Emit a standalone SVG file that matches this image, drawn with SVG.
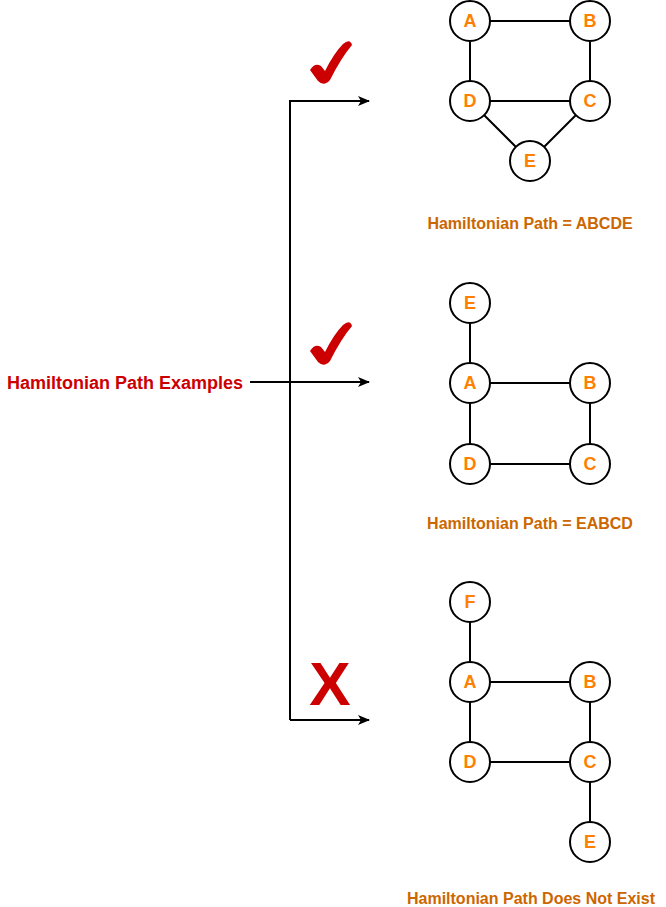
<svg xmlns="http://www.w3.org/2000/svg" width="666" height="907" viewBox="0 0 666 907">
<defs>
<marker id="arr" markerWidth="12" markerHeight="12" refX="11" refY="6" orient="auto" markerUnits="userSpaceOnUse">
<path d="M0,1 L12,6 L0,11 L3,6 Z" fill="#000"/>
</marker>
<style>
.n circle{fill:#fff;stroke:#000;stroke-width:2}
.n text{font-family:"Liberation Sans",Arial,sans-serif;font-weight:bold;font-size:18px;fill:#FF8000;text-anchor:middle;dominant-baseline:central}
.e{stroke:#000;stroke-width:2;fill:none}
.c{stroke:#000;stroke-width:2;fill:none}
.lbl{font-family:"Liberation Sans",Arial,sans-serif;font-weight:bold;font-size:16px;fill:#CC6600;text-anchor:middle}
.title{font-family:"Liberation Sans",Arial,sans-serif;font-weight:bold;font-size:18px;fill:#CC0000;text-anchor:middle}
.mark{fill:#CC0000}
.xm{font-family:"Liberation Sans",Arial,sans-serif;font-weight:bold;font-size:62px;fill:#CC0000;text-anchor:middle}
</style>
</defs>
<rect width="666" height="907" fill="#fff"/>
<g id="connectors">
<path class="c" d="M250,382 H369" marker-end="url(#arr)"/>
<path class="c" d="M290,720 V101 H369" marker-end="url(#arr)"/>
<path class="c" d="M290,720 H369" marker-end="url(#arr)"/>
<!-- graph 1 edges -->
<path class="e" d="M490,21 H570 M470,41 V81 M590,41 V81 M490,101 H570 M484,115 L516,147 M576,115 L544,147"/>
<!-- graph 2 edges -->
<path class="e" d="M470,323 V363 M490,383 H570 M470,403 V444 M590,403 V444 M490,464 H570"/>
<!-- graph 3 edges -->
<path class="e" d="M470,622 V662 M490,682 H570 M470,702 V742 M590,702 V742 M490,762 H570 M590,782 V822"/>
</g>
<g id="title"><text class="title" x="125" y="389">Hamiltonian Path Examples</text></g>
<g id="check1"><path class="mark" d="M310,70 Q315,62 321,66 L325,71 Q334,53 343,44 Q350,38 352,45 Q341,58 330,80 Q324,87 318,81 Z"/></g>
<g id="check2"><path class="mark" d="M310,351 Q315,343 321,347 L325,352 Q334,334 343,325 Q350,319 352,326 Q341,339 330,361 Q324,368 318,362 Z"/></g>
<g id="cross"><text class="xm" x="330" y="705">X</text></g>
<g id="g1A" class="n"><circle cx="470" cy="21" r="20"/><text x="470" y="21">A</text></g>
<g id="g1B" class="n"><circle cx="590" cy="21" r="20"/><text x="590" y="21">B</text></g>
<g id="g1D" class="n"><circle cx="470" cy="101" r="20"/><text x="470" y="101">D</text></g>
<g id="g1C" class="n"><circle cx="590" cy="101" r="20"/><text x="590" y="101">C</text></g>
<g id="g1E" class="n"><circle cx="530" cy="161" r="20"/><text x="530" y="161">E</text></g>
<g id="label1"><text class="lbl" x="530" y="229">Hamiltonian Path = ABCDE</text></g>
<g id="g2E" class="n"><circle cx="470" cy="303" r="20"/><text x="470" y="303">E</text></g>
<g id="g2A" class="n"><circle cx="470" cy="383" r="20"/><text x="470" y="383">A</text></g>
<g id="g2B" class="n"><circle cx="590" cy="383" r="20"/><text x="590" y="383">B</text></g>
<g id="g2D" class="n"><circle cx="470" cy="464" r="20"/><text x="470" y="464">D</text></g>
<g id="g2C" class="n"><circle cx="590" cy="464" r="20"/><text x="590" y="464">C</text></g>
<g id="label2"><text class="lbl" x="530" y="529">Hamiltonian Path = EABCD</text></g>
<g id="g3F" class="n"><circle cx="470" cy="602" r="20"/><text x="470" y="602">F</text></g>
<g id="g3A" class="n"><circle cx="470" cy="682" r="20"/><text x="470" y="682">A</text></g>
<g id="g3B" class="n"><circle cx="590" cy="682" r="20"/><text x="590" y="682">B</text></g>
<g id="g3D" class="n"><circle cx="470" cy="762" r="20"/><text x="470" y="762">D</text></g>
<g id="g3C" class="n"><circle cx="590" cy="762" r="20"/><text x="590" y="762">C</text></g>
<g id="g3E" class="n"><circle cx="590" cy="842" r="20"/><text x="590" y="842">E</text></g>
<g id="label3"><text class="lbl" x="531" y="904">Hamiltonian Path Does Not Exist</text></g>
</svg>
